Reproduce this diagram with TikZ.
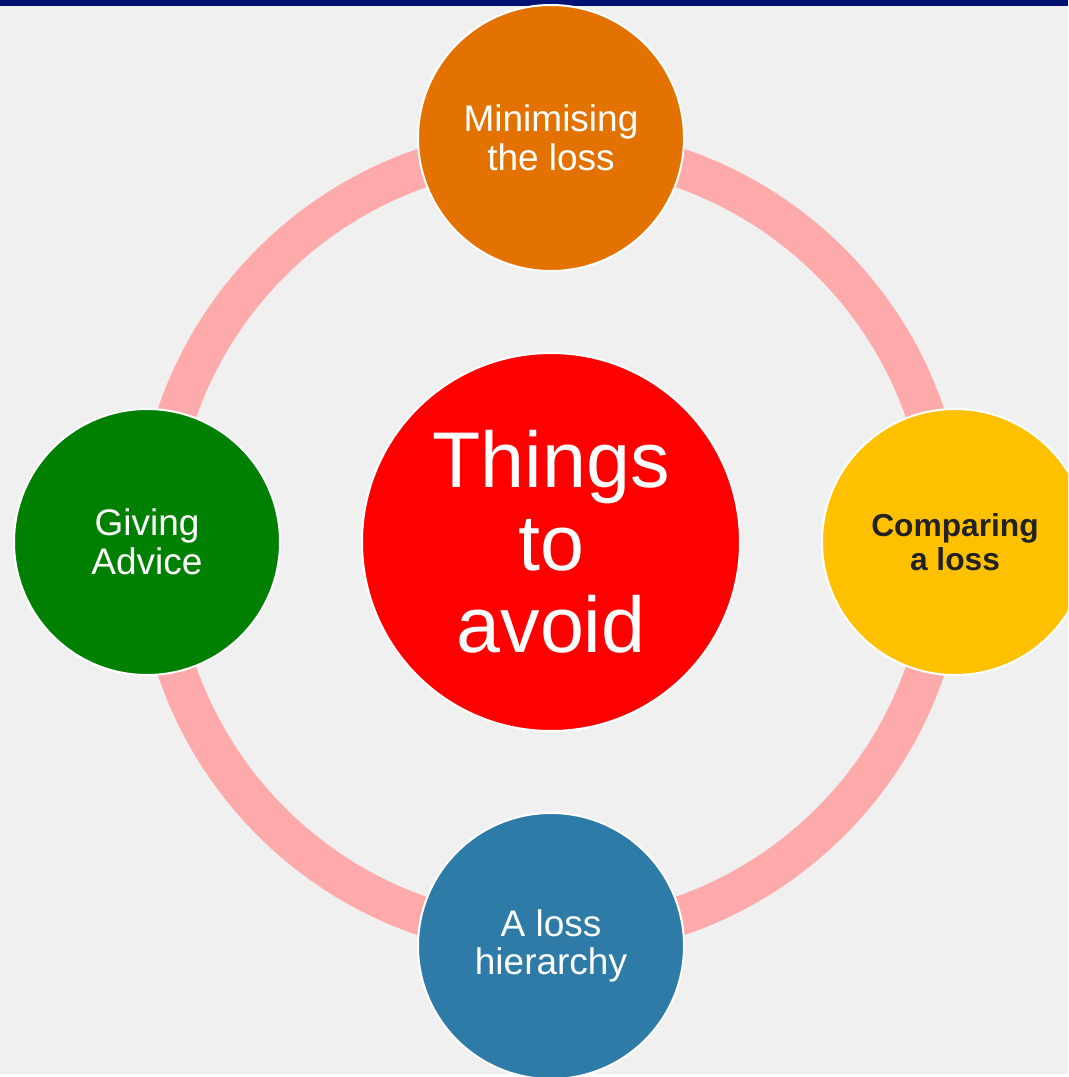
\documentclass[tikz,border=0pt]{standalone}
\usepackage{fontspec}
\setmainfont{Liberation Sans}
\definecolor{navy}{RGB}{0,18,115}
\definecolor{bggray}{RGB}{240,240,240}
\definecolor{ringpink}{RGB}{255,170,170}
\definecolor{hubred}{RGB}{255,0,0}
\definecolor{lossorange}{RGB}{228,114,0}
\definecolor{lossyellow}{RGB}{255,192,0}
\definecolor{lossgreen}{RGB}{0,128,0}
\definecolor{lossblue}{RGB}{46,123,167}
\definecolor{darktext}{RGB}{34,34,34}

\begin{document}
\begin{tikzpicture}[x=0.75pt,y=-0.75pt,
  petal/.style={circle,draw=white,line width=1.5pt,minimum size=199.5pt,inner sep=0pt,
    align=center,text=white,font=\fontsize{27.75}{28.9}\selectfont},
  hub/.style={petal,minimum size=283.5pt,font=\fontsize{59.25}{61.9}\selectfont}]
\useasboundingbox (0,0) rectangle (1068,1077);
\clip (0,0) rectangle (1068,1077);
\fill [white] (0,0) rectangle (1068,1077);
\fill [bggray] (0,6) rectangle (1068,1074);
\fill [navy] (0,0) rectangle (1068,6);
% ring behind the circles
\coordinate (mid) at (551,542);
\draw [ringpink,line width=29.25pt] (mid) circle [radius=395.5];
\node [hub,fill=hubred] (avoid) at (mid) {Things\\to\\avoid};
\node [petal,fill=lossorange] (minimise) at (551,138) {Minimising\\the loss};
\node [petal,fill=lossyellow,text=darktext,font=\bfseries\fontsize{23.8}{25.5}\selectfont] (compare) at (955,542) {Comparing\\a loss};
\node [petal,fill=lossblue] (hierarchy) at (551,946) {A loss\\hierarchy};
\node [petal,fill=lossgreen] (advice) at (147,542) {Giving\\Advice};
\end{tikzpicture}
\end{document}
